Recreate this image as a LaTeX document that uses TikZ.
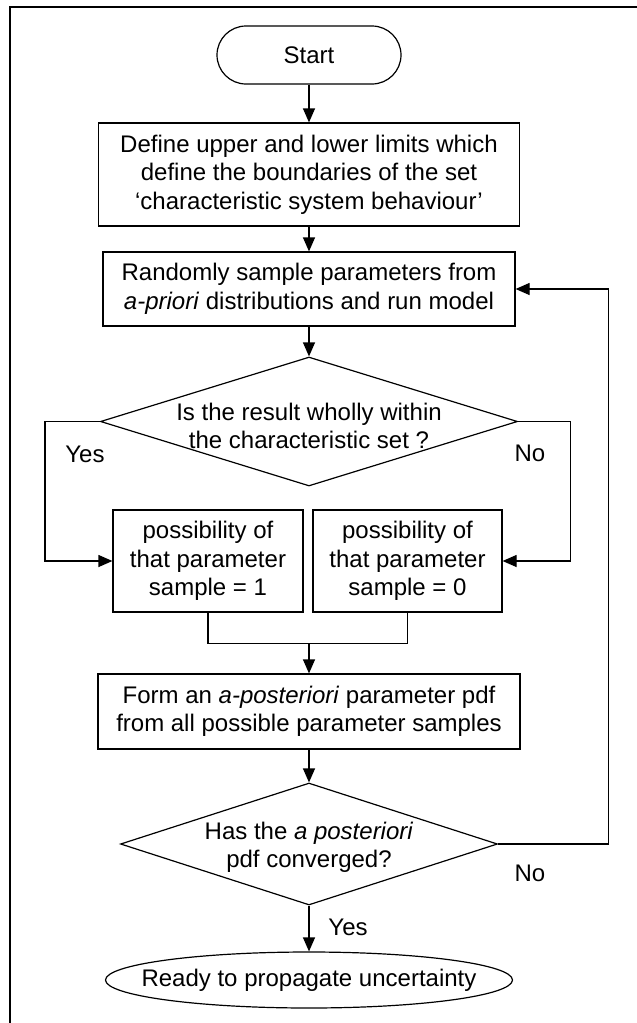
\documentclass[tikz,border=0pt]{standalone}
\usepackage{fontspec}
\setmainfont{Liberation Sans}
\usetikzlibrary{arrows.meta,shapes.geometric}
\begin{document}
\begin{tikzpicture}[x=1pt,y=-1pt,
  every node/.style={font=\fontsize{24}{28.5}\selectfont},
  ln/.style={line width=1.2pt},
  arr/.style={ln,-{Triangle[length=14pt,width=12pt]}},
  box/.style={draw,ln,rectangle,inner sep=0pt,align=center},
  diam/.style={draw,ln,diamond,inner sep=0pt},
  txt/.style={inner sep=0pt,align=center},
]
\useasboundingbox (0,0) rectangle (637,1023);
\draw[line width=1.6pt] (10,1023) -- (10,7) -- (637,7);

\node[draw,ln,rounded corners=29pt,minimum width=184pt,minimum height=58pt,inner sep=0pt] (start) at (309,55) {Start};
\node[box,minimum width=421pt,minimum height=103pt] (b1) at (309,174.5) {Define upper and lower limits which\\define the boundaries of the set\\‘characteristic system behaviour’};
\node[box,minimum width=412pt,minimum height=74pt] (b2) at (309,289) {Randomly sample parameters from\\\textit{a-priori} distributions and run model};
\node[diam,minimum width=417pt,minimum height=129pt] (d1) at (309,421.5) {};
\node[txt] (d1t) at (309,426) {Is the result wholly within\\the characteristic set ?};
\node[box,minimum width=190pt,minimum height=102pt] (b3) at (208,561) {possibility of\\that parameter\\sample = 1};
\node[box,minimum width=189pt,minimum height=102pt] (b4) at (407.5,561) {possibility of\\that parameter\\sample = 0};
\node[box,minimum width=422pt,minimum height=75pt] (b5) at (309,711.5) {Form an \textit{a-posteriori} parameter pdf\\from all possible parameter samples};
\node[diam,minimum width=377pt,minimum height=122pt] (d2) at (309,844) {};
\node[txt] (d2t) at (309,847.5) {Has the \textit{a posteriori}\\pdf converged?};
\node[draw,ln,ellipse,minimum width=407pt,minimum height=56pt,inner sep=0pt] (end) at (309,980) {};
\node[txt] (endt) at (309,980) {Ready to propagate uncertainty};

\node[txt] (yes1) at (85,454) {Yes};
\node[txt] (no1) at (530,453) {No};
\node[txt] (no2) at (530,873) {No};
\node[txt] (yes2) at (348,927) {Yes};

\draw[arr] (start) -- (b1);
\draw[arr] (b1) -- (b2);
\draw[arr] (b2) -- (d1);
\draw[arr] (d1.west) -- ++(-55,0) |- (b3.west);
\draw[arr] (d1.east) -- ++(52,0) |- (b4.east);
\draw[ln] (b3.south) -- ++(0,31) -| (b4.south);
\coordinate (m) at (309,643);
\draw[arr] (m) -- (b5);
\draw[arr] (b5) -- (d2);
\draw[arr] (d2.east) -- ++(110,0) |- (b2.east);
\draw[arr] (d2) -- (end);
\end{tikzpicture}
\end{document}
